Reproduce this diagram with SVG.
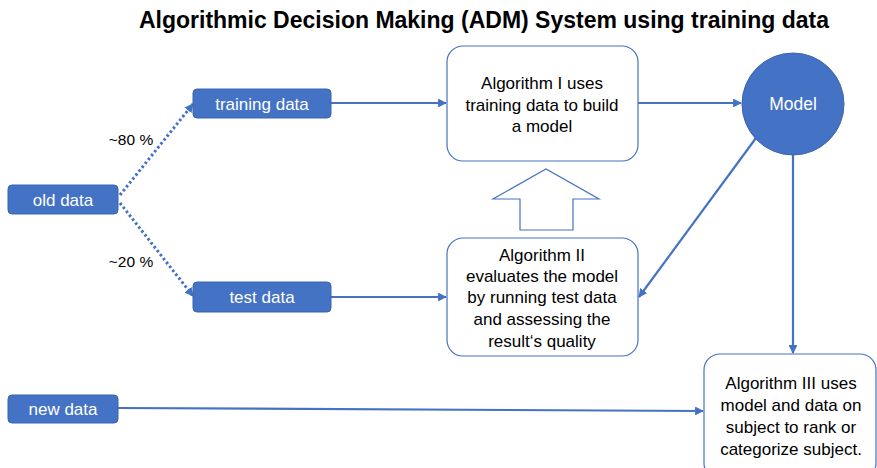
<svg xmlns="http://www.w3.org/2000/svg" width="877" height="468" viewBox="0 0 877 468">
<style>
.bg{fill:#ffffff}
.title{font-family:"Liberation Sans",Arial,sans-serif;font-weight:bold;font-size:23px;fill:#000;text-anchor:middle}
.data rect{fill:#4472C4;stroke:#3B64AE;stroke-width:1}
.data text{font-family:"Liberation Sans",Arial,sans-serif;font-size:17px;fill:#fff;text-anchor:middle}
.alg rect{fill:#fff;stroke:#4472C4;stroke-width:1.2}
.alg text{font-family:"Liberation Sans",Arial,sans-serif;font-size:17px;fill:#000;text-anchor:middle}
.lbl{font-family:"Liberation Sans",Arial,sans-serif;font-size:15.5px;fill:#000;text-anchor:middle}
.conn{stroke:#4472C4;stroke-width:2.2;fill:none}
.dot{stroke:#4472C4;stroke-width:3;fill:none;stroke-dasharray:2.5 2.5}
</style>
<defs>
<marker id="ah" viewBox="0 0 10 10" refX="9" refY="5" markerWidth="4" markerHeight="4" orient="auto" markerUnits="strokeWidth">
<path d="M0,0 L10,5 L0,10 z" fill="#4472C4"/>
</marker>
<marker id="ahd" viewBox="0 0 10 10" refX="9" refY="5" markerWidth="3" markerHeight="3" orient="auto" markerUnits="strokeWidth">
<path d="M0,0 L10,5 L0,10 z" fill="#4472C4"/>
</marker>
</defs>
<rect class="bg" x="0" y="0" width="877" height="468"/>
<text class="title" x="484" y="28">Algorithmic Decision Making (ADM) System using training data</text>

<g id="connectors">
<path class="dot" d="M120,195 L193,104" marker-end="url(#ahd)"/>
<path class="dot" d="M120,203 L193,296" marker-end="url(#ahd)"/>
<path class="conn" d="M331,103 L446,103" marker-end="url(#ah)"/>
<path class="conn" d="M638,103 L741,103" marker-end="url(#ah)"/>
<path class="conn" d="M331,297 L446,297" marker-end="url(#ah)"/>
<path class="conn" d="M756,138 L639,297" marker-end="url(#ah)"/>
<path class="conn" d="M793,154 L793,353" marker-end="url(#ah)"/>
<path class="conn" d="M118,408 L703,411" marker-end="url(#ah)"/>
<path d="M520,230 L520,199 L493,199 L546,169 L599,199 L573,199 L573,230 Z" fill="#fff" stroke="#4472C4" stroke-width="1.2"/>
</g>
<text class="lbl" x="131" y="145">~80 %</text>
<text class="lbl" x="131" y="267">~20 %</text>

<g id="old-data" class="data">
<rect x="8" y="185" width="110" height="29" rx="4"/>
<text x="63" y="205.5">old data</text>
</g>
<g id="training-data" class="data">
<rect x="193" y="89" width="138" height="29" rx="4"/>
<text x="262" y="109.5">training data</text>
</g>
<g id="test-data" class="data">
<rect x="193" y="282" width="138" height="30" rx="4"/>
<text x="262" y="303">test data</text>
</g>
<g id="new-data" class="data">
<rect x="8" y="395" width="110" height="28" rx="4"/>
<text x="63" y="415">new data</text>
</g>
<g id="algorithm-1" class="alg">
<rect x="447" y="46" width="191" height="115" rx="16"/>
<text x="542" y="89">Algorithm I uses</text>
<text x="542" y="111">training data to build</text>
<text x="542" y="132">a model</text>
</g>
<g id="model">
<circle cx="793" cy="104" r="51" fill="#4472C4" stroke="#3B64AE" stroke-width="1"/>
<text x="793" y="110" font-family="Liberation Sans,Arial,sans-serif" font-size="17.5" fill="#fff" text-anchor="middle">Model</text>
</g>
<g id="algorithm-2" class="alg">
<rect x="447" y="238" width="191" height="118" rx="16"/>
<text x="542" y="261">Algorithm II</text>
<text x="542" y="282">evaluates the model</text>
<text x="542" y="303">by running test data</text>
<text x="542" y="325">and assessing the</text>
<text x="542" y="347">result‘s quality</text>
</g>
<g id="algorithm-3" class="alg">
<rect x="704" y="354" width="172" height="125" rx="16"/>
<text x="791" y="389">Algorithm III uses</text>
<text x="791" y="411">model and data on</text>
<text x="791" y="433">subject to rank or</text>
<text x="791" y="455">categorize subject.</text>
</g>
</svg>
